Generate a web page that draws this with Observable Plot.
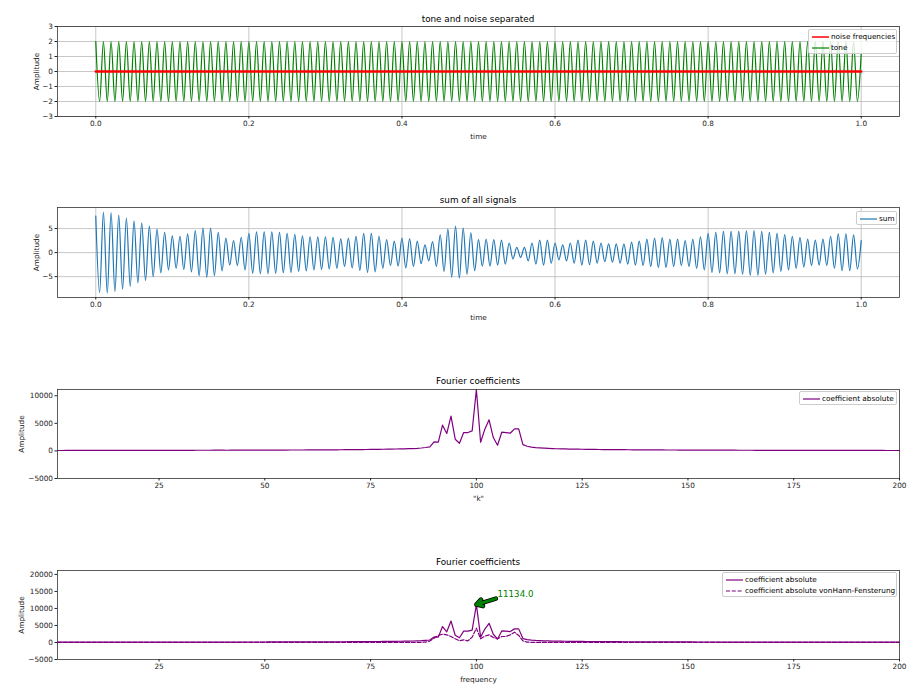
<!DOCTYPE html>
<html>
<head>
<meta charset="utf-8">
<script src="https://cdn.jsdelivr.net/npm/d3@7"></script>
<script src="https://cdn.jsdelivr.net/npm/@observablehq/plot@0.6"></script>
<style>
  html, body { margin: 0; padding: 0; background: #fff; }
  #root { position: relative; width: 924px; height: 696px; font-family: "DejaVu Sans", sans-serif; color: #000; }
  .title { position: absolute; left: 57px; width: 842px; text-align: center; font-size: 8.8px; line-height: 10px; }
  .legend { position: absolute; background: rgba(255,255,255,0.8); border: 0.7px solid #cccccc; border-radius: 2px; font-size: 7.3px; box-sizing: border-box; }
  .legend .row { position: absolute; left: 0; height: 10px; line-height: 10px; white-space: nowrap; }
  .legend svg { position: absolute; left: 3px; top: 0; }
  .legend span { position: absolute; left: 22px; top: 0; }
</style>
</head>
<body>
<div id="root"></div>
<script>
// ---------------- data ----------------
// time step between successive extremes (half a period of the ~100 Hz signals)
const halfPeriod = 0.005;

// tone: maxima (t = 0, 0.01, ... 1.0) and minima (t = 0.005, ... 0.995)
const tonePeaks = [
  2,2,2,2,2,2,2,2,2,2, 2,2,2,2,2,2,2,2,2,2, 2,2,2,2,2,2,2,2,2,2, 2,2,2,2,2,2,2,2,2,2,
  2,2,2,2,2,2,2,2,2,2, 2,2,2,2,2,2,2,2,2,2, 2,2,2,2,2,2,2,2,2,2, 2,2,2,2,2,2,2,2,2,2,
  2,2,2,2,2,2,2,2,2,2, 2,2,2,2,2,2,2,2,2,2, 1.2];
const toneTroughs = [
  -2,-2,-2,-2,-2,-2,-2,-2,-2,-2, -2,-2,-2,-2,-2,-2,-2,-2,-2,-2, -2,-2,-2,-2,-2,-2,-2,-2,-2,-2,
  -2,-2,-2,-2,-2,-2,-2,-2,-2,-2, -2,-2,-2,-2,-2,-2,-2,-2,-2,-2, -2,-2,-2,-2,-2,-2,-2,-2,-2,-2,
  -2,-2,-2,-2,-2,-2,-2,-2,-2,-2, -2,-2,-2,-2,-2,-2,-2,-2,-2,-2, -2,-2,-2,-2,-2,-2,-2,-2,-2,-2,
  -2,-2,-2,-2,-2,-2,-2,-2,-2,-2];

// noise frequencies (flat at zero)
const noiseTime = [0, 1];
const noiseValue = [0, 0];

// sum of all signals: maxima and minima
const sumPeaks = [
  7.6, 8.4, 8.3, 7.8, 7.2, 6.6, 6.2, 5.5, 4.9, 4.2,
  3.5, 3.4, 3.9, 4.6, 5.1, 5.1, 4.2, 3.0, 2.5, 3.2,
  4.0, 4.3, 4.3, 4.3, 4.2, 4.0, 3.8, 3.5, 3.3, 3.3,
  3.3, 3.2, 2.9, 3.0, 3.4, 4.0, 4.0, 3.4, 2.7, 2.4,
  3.0, 2.9, 2.4, 1.6, 2.3, 3.7, 4.9, 5.5, 5.1, 4.1,
  2.7, 2.8, 2.7, 2.6, 2.0, 1.1, 1.1, 2.0, 2.6, 2.6,
  2.0, 1.6, 2.0, 2.6, 2.6, 2.4, 2.0, 1.8, 1.8, 1.8,
  2.2, 2.4, 2.8, 3.0, 3.1, 2.8, 2.8, 2.5, 2.8, 3.3,
  4.0, 4.2, 4.4, 4.4, 4.4, 4.5, 4.6, 4.4, 4.2, 4.0,
  3.75, 3.4, 3.2, 2.8, 2.6, 2.8, 3.4, 3.9, 3.9, 3.7,
  2.5];
const sumTroughs = [
  -8.3, -8.4, -8.1, -7.6, -7.0, -6.3, -5.8, -5.0, -4.2, -3.6,
  -3.3, -3.5, -4.0, -4.8, -5.1, -4.8, -3.8, -2.6, -2.7, -3.6,
  -4.3, -4.4, -4.4, -4.3, -4.2, -4.1, -3.9, -3.8, -3.6, -3.5,
  -3.4, -3.3, -2.9, -3.2, -3.7, -4.1, -4.0, -3.3, -2.7, -2.8,
  -3.2, -2.9, -2.3, -1.7, -2.9, -3.9, -5.1, -5.3, -4.5, -3.75,
  -2.8, -2.8, -2.6, -2.4, -1.3, -1.0, -1.7, -2.4, -2.6, -2.2,
  -1.5, -1.7, -2.2, -2.6, -2.5, -2.2, -1.9, -2.0, -2.2, -2.4,
  -2.6, -2.7, -2.9, -3.1, -3.1, -2.9, -2.7, -2.9, -3.3, -3.6,
  -4.1, -4.2, -4.4, -4.4, -4.5, -4.7, -4.7, -4.5, -4.2, -3.9,
  -3.6, -3.3, -3.0, -2.7, -2.6, -2.7, -3.3, -3.75, -3.75, -3.4];

// Fourier coefficients, k = 1 ... 200
const fourierAbs = [
  79,80,81,81,82,83,84,85,86,87,
  88,89,90,91,92,93,94,95,96,98,
  99,100,101,103,104,105,106,108,110,111,
  113,115,116,118,120,122,124,126,128,130,
  125,128,130,133,135,138,140,143,145,148,
  150,152,155,158,160,163,165,168,170,172,
  175,180,185,190,195,200,205,212,218,224,
  230,240,250,260,270,280,290,305,315,330,
  345,360,380,400,430,470,530,620,730,1640,
  1580,4670,3150,6300,2120,1390,3330,3330,3640,11134,
  1580,3940,5640,2420,1030,3390,3330,3210,4000,4000,
  1150,850,700,600,540,490,450,420,390,370,
  355,340,325,312,300,289,279,269,260,252,
  244,236,229,223,217,211,205,200,195,190,
  186,181,177,173,170,166,163,159,156,153,
  150,147,144,142,139,137,134,132,130,128,
  126,124,122,120,118,116,115,113,111,110,
  108,107,105,104,103,101,100,99,98,96,
  95,94,93,92,91,90,89,88,87,86,
  85,84,83,82,82,81,80,80,79,78];
const fourierHann = [
  3,3,3,3,3,3,3,3,3,3,
  3,3,3,3,3,3,3,3,3,3,
  3,3,3,3,3,3,3,3,3,3,
  4,4,4,4,4,4,4,4,4,4,
  4,4,4,4,4,4,4,4,4,4,
  5,5,5,5,5,5,5,5,5,5,
  6,6,6,6,6,7,7,7,7,8,
  8,8,9,9,10,10,11,12,13,14,
  15,18,20,25,30,40,60,120,420,1270,
  2060,2450,2250,1760,1080,490,780,490,1570,4200,
  1080,1860,2250,1470,1080,1760,1760,2250,3040,2060,
  490,100,50,30,20,15,12,10,8,7,
  6,6,6,5,5,5,5,5,5,5,
  5,5,5,4,4,4,4,4,4,4,
  4,4,4,4,4,4,4,4,4,4,
  3,3,3,3,3,3,3,3,3,3,
  3,3,3,3,3,3,3,3,3,3,
  3,3,3,3,3,3,3,3,3,3,
  3,3,3,3,3,3,3,3,3,3,
  3,3,3,3,3,3,3,3,3,3];

// annotation
const peakK = 100, peakValue = 11134;
const annotationText = "11134.0";
const annotationTextK = 105, annotationTextValue = 14100;
const arrowTailK = 104.6, arrowTailValue = 12900;

// tick labels
const timeTicks = [0, 0.2, 0.4, 0.6, 0.8, 1.0];
const toneYTicks = [-3, -2, -1, 0, 1, 2, 3];
const sumYTicks = [-5, 0, 5];
const kTicks = [25, 50, 75, 100, 125, 150, 175, 200];
const fourierYTicks1 = [-5000, 0, 5000, 10000];
const fourierYTicks2 = [-5000, 0, 5000, 10000, 15000, 20000];

// ---------------- build tables ----------------
function extremes(peaks, troughs) {
  const rows = [];
  for (let i = 0; i < peaks.length; i++) {
    rows.push({t: rows.length * halfPeriod, v: peaks[i]});
    if (i < troughs.length) rows.push({t: rows.length * halfPeriod, v: troughs[i]});
  }
  return rows;
}
const toneRows = extremes(tonePeaks, toneTroughs);
const sumRows = extremes(sumPeaks, sumTroughs);
const noiseRows = noiseTime.map((t, i) => ({t, v: noiseValue[i]}));
const fourierRows = fourierAbs.map((v, i) => ({k: i + 1, v, h: fourierHann[i]}));

// ---------------- drawing ----------------
const root = document.getElementById("root");
const fmtInt = d3.format("d");
const fmtTime = d3.format(".1f");

function panel({top, boxH, xDomain, yDomain, xTicks, yTicks, xFormat, yFormat, xLabel, yLabelOffset, grid, marks}) {
  const mt = 4, mb = 30;
  const gridMarks = grid ? [
    Plot.gridX(xTicks, {stroke: "#b0b0b0", strokeOpacity: 1, strokeWidth: 0.7}),
    Plot.gridY(yTicks, {stroke: "#b0b0b0", strokeOpacity: 1, strokeWidth: 0.7})
  ] : [];
  const svg = Plot.plot({
    width: 924, height: mt + boxH + mb,
    marginTop: mt, marginBottom: mb, marginLeft: 57, marginRight: 25,
    x: {domain: xDomain},
    y: {domain: yDomain},
    style: {fontFamily: "DejaVu Sans", fontSize: "7.3px", color: "#222", background: "transparent", overflow: "visible"},
    marks: [
      ...gridMarks,
      ...marks,
      Plot.frame({stroke: "#333", strokeWidth: 0.8}),
      Plot.axisX({ticks: xTicks, tickFormat: xFormat, tickSize: 2.5, tickPadding: 2,
                  label: xLabel, labelAnchor: "center", labelArrow: "none", labelOffset: 22}),
      Plot.axisY({ticks: yTicks, tickFormat: yFormat, tickSize: 2.5, tickPadding: 2,
                  label: "Amplitude", labelAnchor: "center", labelArrow: "none", labelOffset: yLabelOffset})
    ]
  });
  svg.style.position = "absolute";
  svg.style.left = "0px";
  svg.style.top = (top - mt) + "px";
  root.appendChild(svg);
}

function title(text, y) {
  const d = document.createElement("div");
  d.className = "title";
  d.textContent = text;
  d.style.top = (y - 5) + "px";
  root.appendChild(d);
}

function legend(left, top, width, items) {
  const d = document.createElement("div");
  d.className = "legend";
  d.style.left = left + "px";
  d.style.top = top + "px";
  d.style.width = width + "px";
  d.style.height = (items.length * 11 + 3) + "px";
  items.forEach((it, i) => {
    const r = document.createElement("div");
    r.className = "row";
    r.style.top = (1.5 + i * 11) + "px";
    r.style.width = width + "px";
    r.innerHTML = `<svg width="17" height="10"><line x1="0" x2="17" y1="5" y2="5" stroke="${it.color}" stroke-width="${it.width}" ${it.dash ? `stroke-dasharray="${it.dash}"` : ""}/></svg><span>${it.label}</span>`;
    d.appendChild(r);
  });
  root.appendChild(d);
}

// Panel 1
title("tone and noise separated", 19);
panel({
  top: 26, boxH: 90, xDomain: [-0.05, 1.05], yDomain: [-3, 3],
  xTicks: timeTicks, yTicks: toneYTicks, xFormat: fmtTime, yFormat: fmtInt, xLabel: "time", yLabelOffset: 24, grid: true,
  marks: [
    Plot.line(toneRows, {x: "t", y: "v", stroke: "green", strokeWidth: 1.2, curve: "monotone-x"}),
    Plot.line(noiseRows, {x: "t", y: "v", stroke: "red", strokeWidth: 2.4})
  ]
});
legend(808, 29, 89, [
  {color: "red", width: 1.5, label: "noise frequencies"},
  {color: "green", width: 1.2, label: "tone"}
]);

// Panel 2
title("sum of all signals", 200);
panel({
  top: 207, boxH: 90, xDomain: [-0.05, 1.05], yDomain: [-9.33, 9.38],
  xTicks: timeTicks, yTicks: sumYTicks, xFormat: fmtTime, yFormat: fmtInt, xLabel: "time", yLabelOffset: 24, grid: true,
  marks: [
    Plot.line(sumRows, {x: "t", y: "v", stroke: "#1f77b4", strokeWidth: 1.2, curve: "monotone-x"})
  ]
});
legend(856, 211, 41, [{color: "#1f77b4", width: 1.2, label: "sum"}]);

// Panel 3
title("Fourier coefficients", 381);
panel({
  top: 389, boxH: 89, xDomain: [1, 200], yDomain: [-5000, 11134],
  xTicks: kTicks, yTicks: fourierYTicks1, xFormat: fmtInt, yFormat: fmtInt, xLabel: "\"k\"", yLabelOffset: 39, grid: false,
  marks: [
    Plot.line(fourierRows, {x: "k", y: "v", stroke: "purple", strokeWidth: 1.2})
  ]
});
legend(799, 391, 98, [{color: "purple", width: 1.2, label: "coefficient absolute"}]);

// Panel 4
title("Fourier coefficients", 562);
panel({
  top: 570, boxH: 89, xDomain: [1, 200], yDomain: [-5000, 21150],
  xTicks: kTicks, yTicks: fourierYTicks2, xFormat: fmtInt, yFormat: fmtInt, xLabel: "frequency", yLabelOffset: 39, grid: false,
  marks: [
    Plot.line(fourierRows, {x: "k", y: "v", stroke: "purple", strokeWidth: 1.2}),
    Plot.line(fourierRows, {x: "k", y: "h", stroke: "purple", strokeWidth: 1.2, strokeDasharray: "4,1.8"}),
    Plot.arrow([{x1: arrowTailK, y1: arrowTailValue, x2: peakK, y2: peakValue}],
      {x1: "x1", y1: "y1", x2: "x2", y2: "y2", stroke: "black", strokeWidth: 4.6, headLength: 9}),
    Plot.arrow([{x1: arrowTailK, y1: arrowTailValue, x2: peakK, y2: peakValue}],
      {x1: "x1", y1: "y1", x2: "x2", y2: "y2", stroke: "green", strokeWidth: 3, headLength: 9}),
    Plot.text([annotationText], {x: annotationTextK, y: annotationTextValue, text: d => d,
      fill: "green", fontSize: 8.7, textAnchor: "start", lineAnchor: "middle"})
  ]
});
legend(722, 572, 175, [
  {color: "purple", width: 1.2, label: "coefficient absolute"},
  {color: "purple", width: 1.2, dash: "4,1.8", label: "coefficient absolute vonHann-Fensterung"}
]);
</script>
</body>
</html>
